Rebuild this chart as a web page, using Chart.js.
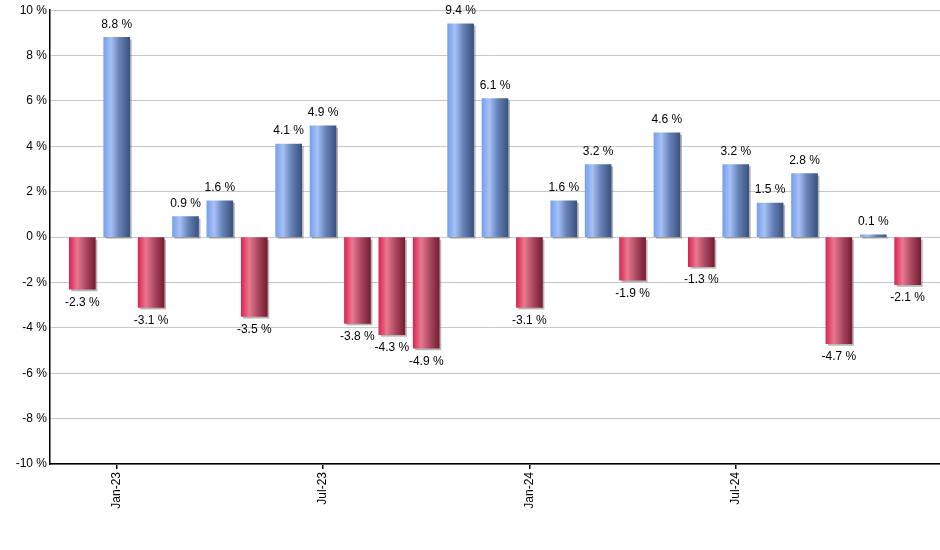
<!DOCTYPE html>
<html>
<head>
<meta charset="utf-8">
<script src="https://cdn.jsdelivr.net/npm/chart.js@4.4.1/dist/chart.umd.min.js"></script>
<style>
html,body{margin:0;padding:0;background:#fff;}
#wrap{width:940px;height:550px;position:relative;}
</style>
</head>
<body>
<div id="wrap"><canvas id="c" width="940" height="550"></canvas></div>
<script>
// Monthly returns, Dec-22 .. Dec-24
const months = ["Dec-22","Jan-23","Feb-23","Mar-23","Apr-23","May-23","Jun-23","Jul-23","Aug-23","Sep-23","Oct-23","Nov-23","Dec-23","Jan-24","Feb-24","Mar-24","Apr-24","May-24","Jun-24","Jul-24","Aug-24","Sep-24","Oct-24","Nov-24","Dec-24"];
const returns = [-2.3, 8.8, -3.1, 0.9, 1.6, -3.5, 4.1, 4.9, -3.8, -4.3, -4.9, 9.4, 6.1, -3.1, 1.6, 3.2, -1.9, 4.6, -1.3, 3.2, 1.5, 2.8, -4.7, 0.1, -2.1];
const tickMonths = ["Jan-23","Jul-23","Jan-24","Jul-24"];
const yTicks = [-10,-8,-6,-4,-2,0,2,4,6,8,10];

const FONT = "'Liberation Sans', Arial, sans-serif";
const points = returns.map((v,i)=>({x:i, y:v}));

function makeGrad(ctx, left, right, positive){
  const g = ctx.createLinearGradient(left,0,right,0);
  if(positive){
    g.addColorStop(0,'#789fee');
    g.addColorStop(0.28,'#a6c1f4');
    g.addColorStop(0.6,'#6682b8');
    g.addColorStop(1,'#3a527e');
  } else {
    g.addColorStop(0,'#dc2550');
    g.addColorStop(0.3,'#e8788f');
    g.addColorStop(0.65,'#a84860');
    g.addColorStop(1,'#771c31');
  }
  return g;
}

const barPlugin = {
  id:'barDeco',
  beforeDatasetsDraw(chart){
    const ctx = chart.ctx;
    const meta = chart.getDatasetMeta(0);
    ctx.save();
    meta.data.forEach((el)=>{
      const left = el.x - el.width/2;
      const top = Math.min(el.y, el.base);
      const h = Math.abs(el.base - el.y);
      ctx.fillStyle = 'rgba(110,110,110,0.5)';
      ctx.fillRect(left+2, top+2, el.width, h);
      el.options.backgroundColor = makeGrad(ctx, left, left+el.width, el.$context.raw.y >= 0);
    });
    ctx.restore();
  },
  afterDatasetsDraw(chart){
    const ctx = chart.ctx;
    const meta = chart.getDatasetMeta(0);
    ctx.save();
    ctx.font = "12px " + FONT;
    ctx.fillStyle = '#000';
    ctx.textAlign = 'center';
    ctx.textBaseline = 'middle';
    meta.data.forEach((el,i)=>{
      const v = returns[i];
      const txt = v.toFixed(1) + ' %';
      const y = v >= 0 ? el.y - 13 : el.y + 13;
      ctx.fillText(txt, el.x, y);
    });
    ctx.restore();
  }
};

new Chart(document.getElementById('c'), {
  type:'bar',
  data:{
    datasets:[{
      data: points,
      backgroundColor: returns.map(v=> v>=0 ? '#6f8fd0' : '#c8405e'),
      borderWidth:0,
      barThickness:26
    }]
  },
  plugins:[barPlugin],
  options:{
    responsive:false,
    animation:false,
    devicePixelRatio:1,
    layout:{padding:{top:10,right:0,left:0,bottom:0}},
    plugins:{legend:{display:false}, tooltip:{enabled:false}},
    scales:{
      x:{
        type:'linear',
        min:-0.94,
        max:24.94,
        offset:false,
        afterBuildTicks(scale){
          scale.ticks = tickMonths.map(m=>({value: months.indexOf(m)}));
        },
        afterFit(scale){ scale.height = 86; },
        ticks:{
          autoSkip:false,
          minRotation:90,
          maxRotation:90,
          padding:3,
          color:'#000',
          font:{family:FONT, size:12},
          callback:(val)=> months[val]
        },
        grid:{offset:false, drawOnChartArea:false, drawTicks:true, tickLength:5, tickColor:'#000', lineWidth:1.5},
        border:{display:true, color:'#000', width:1.5}
      },
      y:{
        min:-10, max:10,
        afterBuildTicks(scale){ scale.ticks = yTicks.map(v=>({value:v})); },
        afterFit(scale){ scale.width = 50; },
        ticks:{
          padding:3,
          color:'#000',
          font:{family:FONT, size:12},
          callback:(v)=> v + ' %'
        },
        grid:{color:'#c8c8c8', lineWidth:1, drawTicks:false},
        border:{display:true, color:'#000', width:1.5}
      }
    }
  }
});
</script>
</body>
</html>
